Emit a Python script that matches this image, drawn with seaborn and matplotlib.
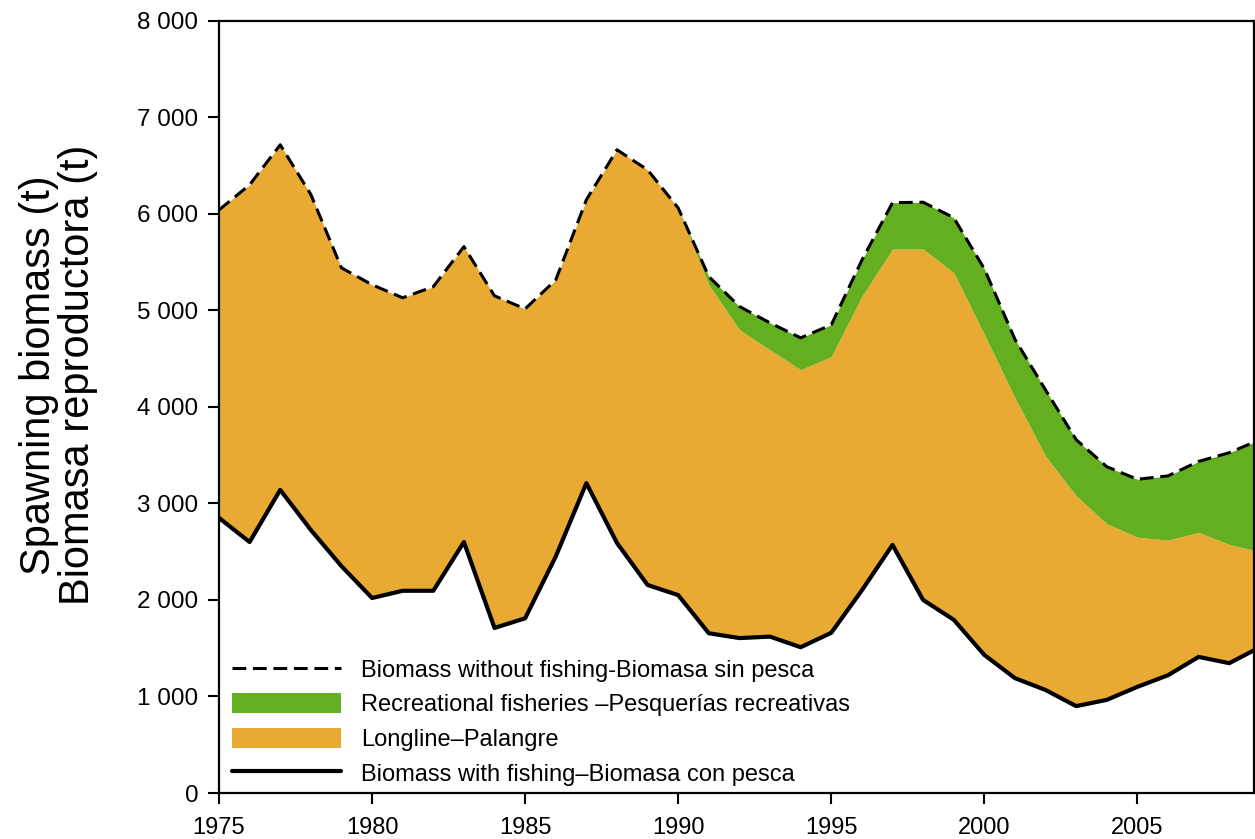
import numpy as np
import pandas as pd
import matplotlib
matplotlib.use("Agg")
import matplotlib.pyplot as plt
import seaborn as sns
from matplotlib.patches import Patch
from matplotlib.lines import Line2D
from matplotlib.ticker import FuncFormatter

years = list(range(1975, 2010))
no_fishing = [6040, 6300, 6715, 6200, 5440, 5265, 5130, 5245, 5660, 5150,
              5015, 5315, 6145, 6663, 6455, 6060, 5350, 5040, 4870, 4715,
              4850, 5520, 6115, 6120, 5960, 5430, 4700, 4175, 3660, 3380,
              3250, 3285, 3435, 3525, 3660]
longline_top = [6040, 6300, 6715, 6200, 5440, 5265, 5130, 5245, 5660, 5150,
                5015, 5315, 6145, 6663, 6455, 6060, 5265, 4800, 4590, 4385,
                4520, 5145, 5635, 5635, 5390, 4750, 4095, 3490, 3080, 2790,
                2650, 2620, 2700, 2575, 2500]
with_fishing = [2850, 2600, 3140, 2725, 2350, 2020, 2095, 2095, 2600, 1710,
                1810, 2450, 3210, 2590, 2155, 2050, 1655, 1605, 1620, 1510,
                1660, 2100, 2570, 2000, 1795, 1430, 1190, 1067, 900, 965,
                1100, 1220, 1410, 1345, 1510]

labels = ["Biomass without fishing-Biomasa sin pesca",
          "Recreational fisheries \u2013Pesquer\u00edas recreativas",
          "Longline\u2013Palangre",
          "Biomass with fishing\u2013Biomasa con pesca"]

df = pd.DataFrame({"year": years, "no_fishing": no_fishing,
                   "longline_top": longline_top, "with_fishing": with_fishing})

orange = "#E9AA34"
green = "#63AF1F"
dash = (0, (4.5, 2.2))

sns.set_style("ticks")
plt.rcParams["font.family"] = ["Liberation Sans", "DejaVu Sans"]
plt.rcParams["text.color"] = "black"
plt.rcParams["axes.labelcolor"] = "black"
plt.rcParams["xtick.color"] = "black"
plt.rcParams["ytick.color"] = "black"

fig = plt.figure(figsize=(12.55, 8.39), dpi=100)
ax = fig.add_axes([0.1745, 0.0548, 0.8245, 0.9205])

ax.fill_between(df["year"], df["with_fishing"], df["longline_top"],
                color=orange, linewidth=0)
ax.fill_between(df["year"], df["longline_top"], df["no_fishing"],
                color=green, linewidth=0)
sns.lineplot(data=df, x="year", y="no_fishing", ax=ax, color="black",
             linewidth=2.2, linestyle=dash)
sns.lineplot(data=df, x="year", y="with_fishing", ax=ax, color="black",
             linewidth=3)

ax.set_xlim(1975, 2008.8)
ax.set_ylim(0, 8000)
ax.set_xticks([1975, 1980, 1985, 1990, 1995, 2000, 2005])
ax.set_yticks(range(0, 8001, 1000))
ax.yaxis.set_major_formatter(FuncFormatter(lambda v, p: f"{int(v):,}".replace(",", " ")))
ax.tick_params(axis="both", labelsize=17, length=8, width=1.5,
               direction="out")
ax.tick_params(axis="y", labelsize=17.5, pad=7)
ax.tick_params(axis="x", pad=9)
for s in ax.spines.values():
    s.set_color("black")
    s.set_linewidth(1.6)
ax.set_xlabel("")
ax.set_ylabel("Spawning biomass (t)\nBiomasa reproductora (t)", fontsize=30,
              linespacing=0.95)
ax.yaxis.set_label_coords(-0.117, 0.541)

handles = [Line2D([], [], color="black", linewidth=2.2, linestyle=dash),
           Patch(facecolor=green, edgecolor="none"),
           Patch(facecolor=orange, edgecolor="none"),
           Line2D([], [], color="black", linewidth=3)]
ax.legend(handles, labels, loc="lower left", bbox_to_anchor=(0.0035, -0.0026),
          frameon=False, fontsize=17, handlelength=4.6, handleheight=0.95,
          handletextpad=0.85, labelspacing=0.48, borderaxespad=0.0,
          borderpad=0.4)

fig.savefig("out.png", dpi=100)
